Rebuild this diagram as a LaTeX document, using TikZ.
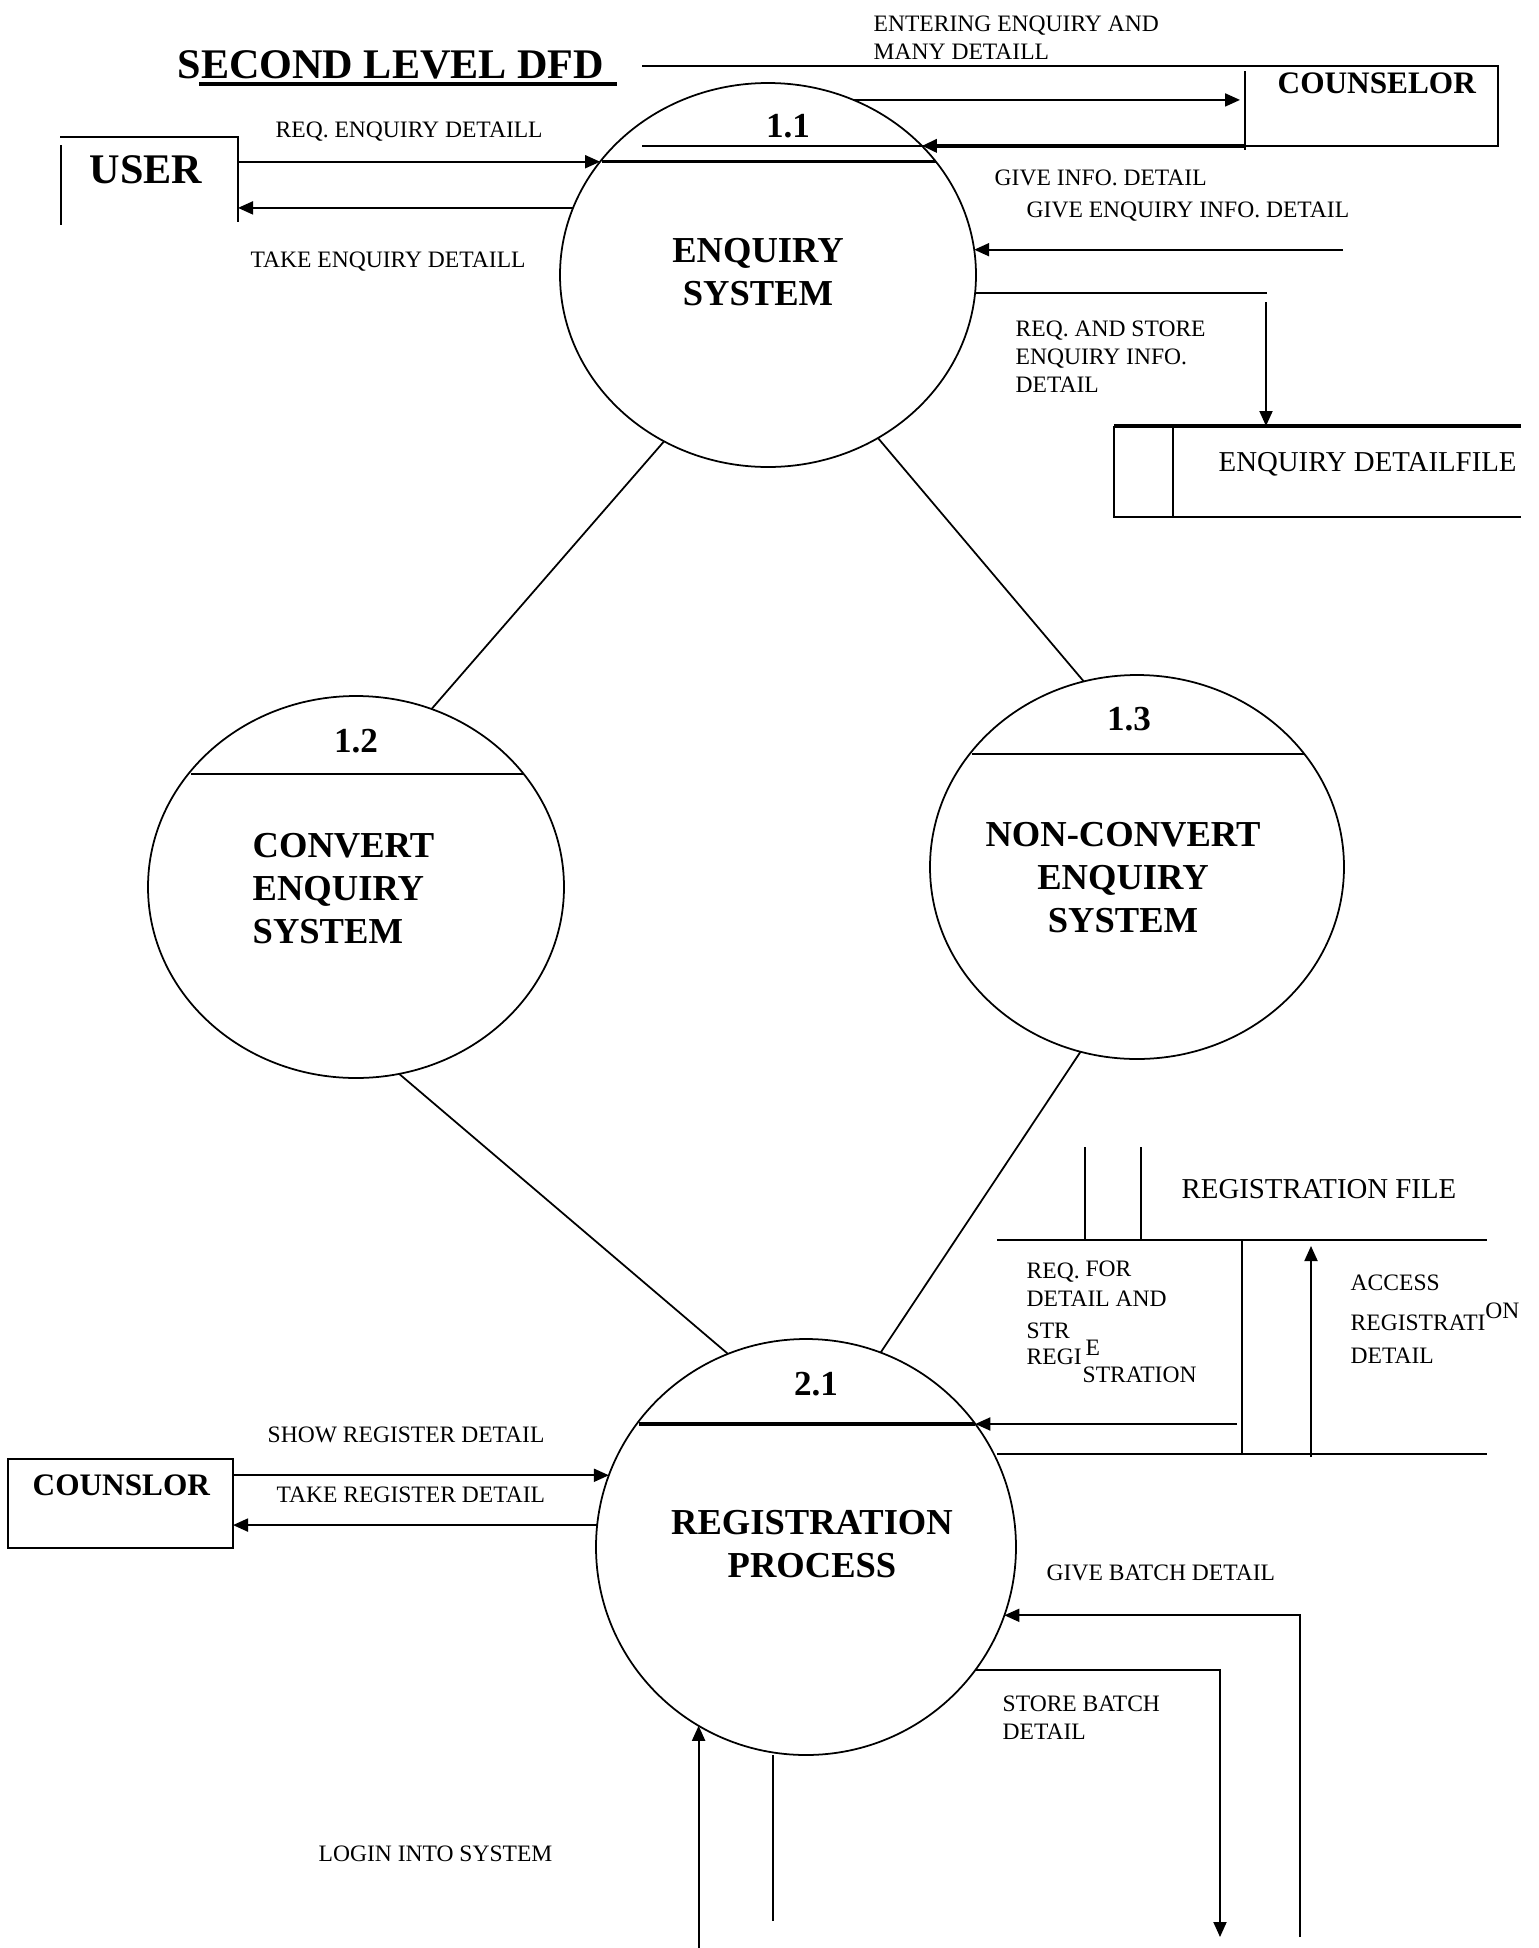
\documentclass[tikz,border=0pt]{standalone}
\usepackage{fontspec}
\setmainfont{Liberation Serif}
\usetikzlibrary{arrows.meta,shapes.geometric}

\begin{document}
\begin{tikzpicture}[
  proc/.style={ellipse,draw,line width=0.5pt,inner sep=0pt,outer sep=0pt},
  pnum/.style={font=\fontsize{10pt}{12pt}\selectfont\bfseries,inner sep=0pt},
  pname/.style={font=\fontsize{10.4pt}{12.2pt}\selectfont\bfseries,inner sep=0pt,
                align=center},
  ent/.style={font=\fontsize{8.9pt}{10pt}\selectfont\bfseries,inner sep=0pt},
  big/.style={font=\fontsize{12pt}{14pt}\selectfont\bfseries,inner sep=0pt},
  lbl/.style={font=\fontsize{6.7pt}{8pt}\selectfont,inner sep=0pt,align=left},
  filetxt/.style={font=\fontsize{8.2pt}{10pt}\selectfont,inner sep=0pt},
  thinline/.style={line width=0.5pt},
  boxline/.style={line width=0.75pt},
  thickline/.style={line width=0.9pt},
  flow/.style={line width=0.55pt,-{Triangle[length=1.5mm,width=1.3mm]}}
]
\useasboundingbox (0,0) rectangle (15.38,-19.48);

\node[proc,minimum width=4.16cm,minimum height=3.84cm] (p11) at (7.68,-2.75) {};
\node[proc,minimum width=4.16cm,minimum height=3.82cm] (p12) at (3.56,-8.87) {};
\node[proc,minimum width=4.14cm,minimum height=3.84cm] (p13) at (11.37,-8.67) {};
\node[proc,minimum width=4.20cm,minimum height=4.16cm] (p21) at (8.06,-15.47) {};
\draw[thickline] (p11.145.4 |- p11.34.6) -- (p11.34.6);
\draw[thinline] (p12.145.7 |- p12.34.3) -- (p12.34.3);
\draw[thinline] (p13.145.3 |- p13.34.7) -- (p13.34.7);
\draw[thickline] (p21.143.7 |- p21.36.3) -- (p21.36.3);

\node[pnum,anchor=base] (n11) at (7.88,-1.37) {1.1};
\node[pname,anchor=north] (t11) at (7.58,-2.38) {ENQUIRY\\SYSTEM};
\node[pnum,anchor=base] (n12) at (3.56,-7.52) {1.2};
\node[pname,align=left,anchor=north west] (t12) at (2.52,-8.33)
  {CONVERT\\ENQUIRY\\SYSTEM};
\node[pnum,anchor=base] (n13) at (11.29,-7.30) {1.3};
\node[pname,anchor=north] (t13) at (11.23,-8.22) {NON-CONVERT\\ENQUIRY\\SYSTEM};
\node[pnum,anchor=base] (n21) at (8.16,-13.95) {2.1};
\node[pname,anchor=north] (t21) at (8.12,-15.10) {REGISTRATION\\PROCESS};

\draw[thinline] (p11.238) -- (p12.67.9);
\draw[thinline] (p11.304.9) -- (p13.106.6);
\draw[thinline] (p12.283.9) -- (p21.112.2);
\draw[thinline] (p13.253.3) -- (p21.69.4);

% title and user
\node[big,anchor=base west] (title) at (1.77,-0.78) {SECOND LEVEL DFD};
\draw[line width=1.1pt] (1.99,-0.84) -- (6.17,-0.84);
\node[big,anchor=base west] (user) at (0.89,-1.83) {USER};
\draw[boxline] (0.60,-1.37) -- (2.38,-1.37) -- (2.38,-2.22) (0.61,-1.45) -- (0.61,-2.25);
\coordinate (ur) at (2.38,-1.37);

% counselor
\node[ent,anchor=base west] (couns) at (12.77,-0.93) {COUNSELOR};
\draw[boxline] (6.42,-0.66) -- (14.98,-0.66) -- (14.98,-1.46) -- (6.42,-1.46);
\draw[thinline] (12.45,-0.71) -- (12.45,-1.50);
\coordinate (cl) at (12.45,-0.71);

\draw[flow] (p11.146.1 -| ur) -- (p11.146.1);
\draw[flow] (p11.161.9) -- (p11.161.9 -| ur);
\draw[flow,shorten >=0.05cm] (p11.64.8) -- (p11.64.8 -| cl);
\draw[flow,line width=1pt] (p11.40.8 -| cl) -- (p11.40.8);
\coordinate (gi) at (13.43,-2.49);
\draw[flow] (p11.7.2 -| gi) -- (p11.7.2);
\coordinate (rs) at (12.67,-2.94);
\draw[boxline] (p11.-5.2) -- (p11.-5.2 -| rs);
\coordinate (rs2) at (12.66,-3.02);
\coordinate (ef) at (11.14,-4.26);
\draw[flow] (rs2) -- (rs2 |- ef);

\node[lbl,anchor=north west] (l1) at (8.73,-0.15) {ENTERING ENQUIRY AND\\MANY DETAILL};
\node[lbl,anchor=base west] (l2) at (2.75,-1.37) {REQ. ENQUIRY DETAILL};
\node[lbl,anchor=base west] (l3) at (2.50,-2.67) {TAKE ENQUIRY DETAILL};
\node[lbl,anchor=base west] (l4) at (9.94,-1.85) {GIVE INFO. DETAIL};
\node[lbl,anchor=base west] (l5) at (10.26,-2.17) {GIVE ENQUIRY INFO. DETAIL};
\node[lbl,anchor=north west] (l6) at (10.15,-3.20) {REQ. AND STORE\\ENQUIRY INFO.\\DETAIL};

% enquiry detail file
\draw[thickline] (ef) -- (15.21,-4.26);
\draw[thinline] (ef) -- (11.14,-5.17) -- (15.21,-5.17) (11.73,-4.26) -- (11.73,-5.17);
\node[filetxt,anchor=base west] (efile) at (12.18,-4.71) {ENQUIRY DETAILFILE};

% registration file
\node[filetxt,anchor=base west] (rfile) at (11.81,-11.98) {REGISTRATION FILE};
\draw[thinline] (9.97,-12.40) -- (14.87,-12.40) (9.97,-14.54) -- (14.87,-14.54)
  (10.85,-11.47) -- (10.85,-12.40) (11.41,-11.47) -- (11.41,-12.40)
  (12.42,-12.40) -- (12.42,-14.54);
\coordinate (rq) at (12.37,-14.23);
\coordinate (rtop) at (9.97,-12.40);
\draw[flow] (p21.36.3 -| rq) -- (p21.36.3);
\coordinate (acc) at (13.11,-14.57);
\draw[flow,shorten >=0.06cm] (acc) -- (acc |- rtop);
\node[lbl,anchor=north west] (l7) at (10.26,-12.60) {REQ. \raisebox{0.02cm}{FOR}\\DETAIL AND\\[0.04cm]STR};
\node[lbl,anchor=base west] (l8) at (10.26,-13.64) {REGI};
\node[lbl,anchor=base west] (l9) at (10.85,-13.55) {E};
\node[lbl,anchor=base west] (l10) at (10.82,-13.82) {STRATION};
\node[lbl,anchor=base west] (l11) at (13.50,-12.90) {ACCESS};
\node[lbl,anchor=base west] (l12) at (13.50,-13.30) {REGISTRATI\raisebox{0.12cm}{ON}};
\node[lbl,anchor=base west] (l13) at (13.50,-13.63) {DETAIL};

% counslor
\node[draw,boxline,minimum width=2.25cm,minimum height=0.89cm,inner sep=0pt,
      outer sep=0pt] (cbox) at (1.205,-15.035) {};
\node[ent,anchor=base west] (couns2) at (0.32,-14.95) {COUNSLOR};
\draw[flow] (p21.160.2 -| cbox.east) -- (p21.160.2);
\draw[flow] (p21.174.8) -- (p21.174.8 -| cbox.east);
\node[lbl,anchor=base west] (l14) at (2.67,-14.42) {SHOW REGISTER DETAIL};
\node[lbl,anchor=base west] (l15) at (2.76,-15.02) {TAKE REGISTER DETAIL};

% batch and login
\coordinate (gb) at (13.00,-19.37);
\draw[flow] (gb) |- (p21.-19.5);
\coordinate (sb) at (12.20,-19.37);
\draw[flow] (p21.-36.6) -| (sb);
\node[lbl,anchor=base west] (l16) at (10.46,-15.80) {GIVE BATCH DETAIL};
\node[lbl,anchor=north west] (l17) at (10.02,-16.95) {STORE BATCH\\DETAIL};
\coordinate (lg) at (6.96,-19.48);
\draw[flow] (p21.-121.9 |- lg) -- (p21.-121.9);
\coordinate (lo) at (7.73,-17.55);
\coordinate (lo2) at (7.73,-19.21);
\draw[thinline] (lo) -- (lo2);
\node[lbl,anchor=base west] (l18) at (3.18,-18.61) {LOGIN INTO SYSTEM};
\end{tikzpicture}
\end{document}
